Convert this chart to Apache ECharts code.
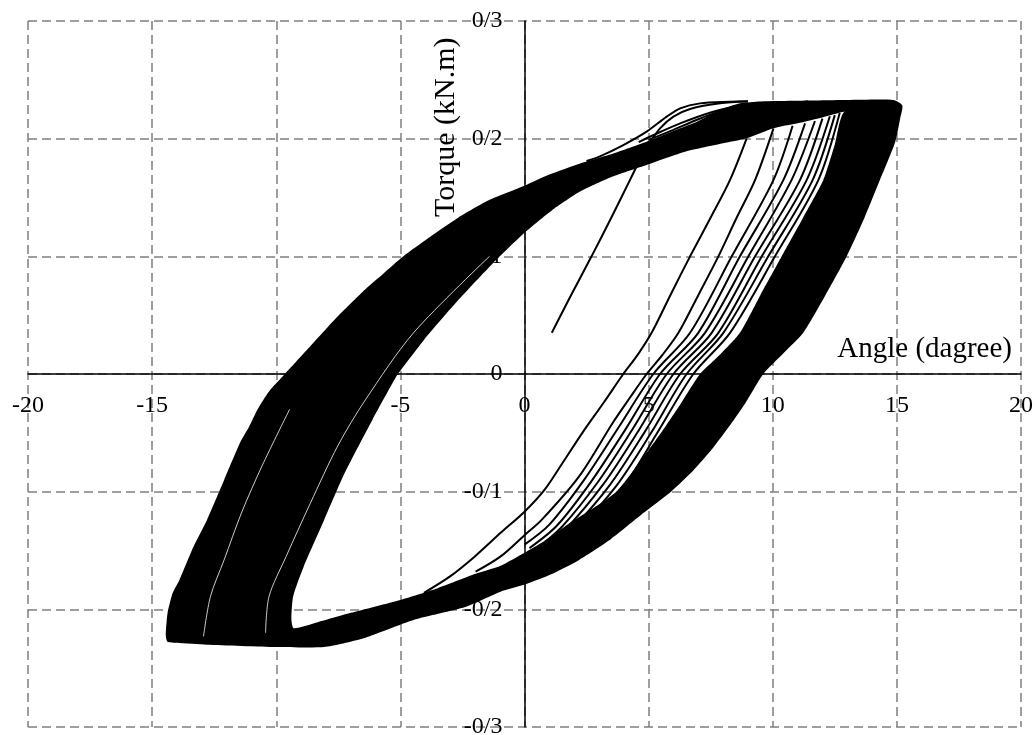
<!DOCTYPE html>
<html>
<head>
<meta charset="utf-8">
<title>Torque - Angle</title>
<script src="https://cdn.jsdelivr.net/npm/echarts@6/dist/echarts.min.js"></script>
<style>
  html, body { margin: 0; padding: 0; background: #ffffff; }
  #chart { width: 1035px; height: 735px; }
</style>
</head>
<body>
<div id="chart"></div>
<script>
// ---- axis ticks ----
const xTickLabels = ['-20', '-15', '-10', '-5', '0', '5', '10', '15', '20'];
const yTickLabels = ['-0/3', '-0/2', '-0/1', '0', '0/1', '0/2', '0/3'];

// ---- saturated hysteresis band: outer contour [angle, torque] ----
const ringOuter = [
  [15.2, 0.2286], [14.86, 0.2329], [13.0, 0.2328], [11.0, 0.2322], [9.5, 0.2316],
  [8.68, 0.2300], [7.88, 0.2244], [6.94, 0.2144], [6.27, 0.2088], [4.92, 0.1974],
  [3.58, 0.1875], [2.24, 0.1790], [1.0, 0.1695], [0.0, 0.1600], [-1.41, 0.1480],
  [-2.66, 0.1330], [-3.77, 0.1170], [-4.88, 0.1000], [-5.7, 0.0850], [-6.41, 0.0720],
  [-7.52, 0.0490], [-8.63, 0.0235], [-9.65, 0.0000], [-10.3, -0.0150], [-10.75, -0.0300],
  [-11.1, -0.0450], [-11.45, -0.0580], [-12.10, -0.0900], [-12.79, -0.1240], [-13.34, -0.1470],
  [-13.90, -0.1750], [-14.17, -0.1860], [-14.38, -0.2034], [-14.45, -0.2220], [-14.38, -0.2275],
  [-14.0, -0.2285], [-12.79, -0.2300], [-10.00, -0.2320], [-8.07, -0.2320], [-6.55, -0.2250],
  [-4.47, -0.2090], [-2.39, -0.1980], [-0.96, -0.1850], [0.00, -0.1790], [1.10, -0.1700],
  [2.20, -0.1580], [3.50, -0.1400], [4.80, -0.1180], [5.90, -0.1000], [6.80, -0.0820],
  [7.55, -0.0640], [8.30, -0.0430], [8.92, -0.0240], [9.62, 0.0000], [10.45, 0.0180],
  [11.23, 0.0350], [12.10, 0.0660], [12.98, 0.1000], [13.70, 0.1330], [14.32, 0.1650],
  [14.93, 0.1970], [15.13, 0.2170]
];

// ---- open interior of the band (runs the opposite way round) ----
const ringInner = [
  [12.90, 0.2230], [12.50, 0.1950], [12.04, 0.1650], [11.20, 0.1320], [10.36, 0.1000],
  [9.50, 0.0670], [8.68, 0.0350], [7.90, 0.0170], [7.07, 0.0000], [6.30, -0.0250],
  [5.50, -0.0500], [4.60, -0.0760], [3.70, -0.1000], [2.70, -0.1150], [1.80, -0.1270],
  [0.80, -0.1420], [0.00, -0.1520], [-0.96, -0.1630], [-2.00, -0.1700], [-3.50, -0.1820],
  [-5.00, -0.1920], [-7.00, -0.2030], [-8.50, -0.2120], [-9.30, -0.2160], [-9.39, -0.2080],
  [-9.32, -0.1890], [-8.90, -0.1640], [-8.07, -0.1240], [-7.24, -0.0840], [-6.13, -0.0390],
  [-5.23, -0.0045], [-5.10, 0.0000], [-4.05, 0.0290], [-2.66, 0.0630], [-1.28, 0.0940],
  [0.00, 0.1200], [1.10, 0.1390], [2.24, 0.1550], [3.58, 0.1680], [4.92, 0.1776],
  [6.50, 0.1890], [8.00, 0.1960], [8.95, 0.2003], [10.03, 0.2088], [11.00, 0.2130],
  [12.00, 0.2180]
];

// ---- first loading path ----
const initialLoading = [
  [1.1, 0.035], [1.9, 0.068], [2.7, 0.100], [3.5, 0.133], [4.25, 0.165], [4.7, 0.184],
  [5.06, 0.197], [5.46, 0.2088], [6.0, 0.2187], [6.67, 0.2252], [7.88, 0.2300], [9.0, 0.2315]
];

// ---- early reloading paths near the positive peak ----
const capA = [
  [2.5, 0.181], [3.04, 0.185], [3.98, 0.1946], [4.92, 0.206], [5.73, 0.2187],
  [6.27, 0.2258], [7.07, 0.2300], [8.28, 0.2314], [9.0, 0.2318]
];
const capC = [[4.6, 0.197], [5.2, 0.2031], [6.27, 0.213], [7.6, 0.2229], [8.68, 0.228]];
const capD = [[5.0, 0.199], [6.0, 0.2075], [7.0, 0.2165], [8.0, 0.2245]];

// ---- early unloading paths (positive peak down to the lower branch) ----
const unload1 = [
  [8.95, 0.2003], [8.28, 0.165], [7.5, 0.133], [6.67, 0.100], [5.9, 0.068], [5.12, 0.035],
  [4.55, 0.016], [3.98, 0.000], [3.2, -0.024], [2.33, -0.050], [1.55, -0.075], [0.82, -0.098],
  [0.0, -0.117], [-0.96, -0.135], [-2.0, -0.155], [-3.0, -0.172], [-4.05, -0.186]
];
const unload2 = [
  [10.03, 0.2088], [9.29, 0.165], [8.55, 0.133], [7.81, 0.100], [7.0, 0.067], [6.2, 0.035],
  [5.55, 0.016], [4.92, 0.000], [4.25, -0.020], [3.57, -0.041], [2.2, -0.087], [0.69, -0.124],
  [0.0, -0.137], [-0.96, -0.155], [-1.97, -0.168]
];
const unload3 = [[10.8, 0.211], [10.03, 0.165], [8.35, 0.100], [6.67, 0.035], [5.19, 0.000], [3.8, -0.045], [2.4, -0.090], [1.0, -0.128], [0.0, -0.145]];
const unload4 = [[11.3, 0.213], [10.43, 0.165], [8.68, 0.100], [7.0, 0.035], [5.46, 0.000], [4.1, -0.046], [2.7, -0.091], [1.3, -0.129], [0.2, -0.148]];
const unload5 = [[11.7, 0.215], [10.76, 0.165], [9.02, 0.100], [7.27, 0.035], [5.73, 0.000], [4.35, -0.047], [2.95, -0.092], [1.5, -0.130], [0.4, -0.150]];
const unload6 = [[12.0, 0.217], [11.1, 0.165], [9.29, 0.100], [7.54, 0.035], [6.0, 0.000], [4.6, -0.048], [3.2, -0.093], [1.7, -0.131], [0.6, -0.151]];
const unload7 = [[12.3, 0.219], [11.37, 0.165], [9.56, 0.100], [7.81, 0.035], [6.27, 0.000], [4.85, -0.049], [3.45, -0.094], [1.9, -0.132], [0.8, -0.152]];
const unload8 = [[12.5, 0.220], [11.61, 0.165], [9.82, 0.100], [8.01, 0.035], [6.53, 0.000], [5.1, -0.050], [3.7, -0.095], [2.1, -0.133], [1.0, -0.153]];
const unload9 = [[12.7, 0.222], [11.84, 0.165], [10.09, 0.100], [8.28, 0.035], [6.8, 0.000], [5.35, -0.050], [3.95, -0.097], [2.3, -0.134], [1.2, -0.154]];

// ---- thin gaps between neighbouring cycles inside the negative band ----
const gapA = [[-12.93, -0.223], [-12.65, -0.189], [-12.1, -0.158], [-11.4, -0.118], [-10.57, -0.078], [-9.46, -0.030]];
const gapB = [[-10.43, -0.220], [-10.29, -0.189], [-9.6, -0.155], [-8.63, -0.110], [-7.52, -0.061], [-6.41, -0.022], [-4.47, 0.035], [-1.41, 0.100]];

const FONT = 'Liberation Serif';
const X_MIN = -20, X_MAX = 20, X_STEP = 5;
const Y_MIN = -0.3, Y_MAX = 0.3, Y_STEP = 0.1;

// plot box inside the 1035 x 735 canvas
const GRID = { left: 28, right: 14, top: 21, bottom: 8 };
const PLOT_W = 1035 - GRID.left - GRID.right;
const PLOT_H = 735 - GRID.top - GRID.bottom;
// both axes cross at the origin: shift them in from the plot edges
const Y_AXIS_SHIFT = -PLOT_W * (0 - X_MIN) / (X_MAX - X_MIN);
const X_AXIS_SHIFT = -PLOT_H * (0 - Y_MIN) / (Y_MAX - Y_MIN);

function curve(data, color, width) {
  return {
    type: 'line',
    data: data,
    showSymbol: false,
    symbol: 'none',
    smooth: 0.3,
    silent: true,
    lineStyle: { color: color, width: width },
    z: 4
  };
}

const chart = echarts.init(document.getElementById('chart'), null, { renderer: 'canvas' });

const gridLine = { color: '#7f7f7f', width: 1.5, type: [9, 5] };

chart.setOption({
  animation: false,
  backgroundColor: '#ffffff',
  grid: { left: GRID.left, right: GRID.right, top: GRID.top, bottom: GRID.bottom, containLabel: false, outerBoundsMode: 'none' },
  xAxis: {
    type: 'value', min: X_MIN, max: X_MAX, interval: X_STEP,
    position: 'bottom', offset: X_AXIS_SHIFT,
    axisLine: { show: true, onZero: false, lineStyle: { color: '#000', width: 1.5 } },
    axisTick: { show: false },
    axisLabel: {
      show: true, margin: 20, color: '#000', fontFamily: FONT, fontSize: 24,
      showMinLabel: true, showMaxLabel: true, hideOverlap: false,
      formatter: v => xTickLabels[Math.round((v - X_MIN) / X_STEP)]
    },
    splitLine: { show: true, showMinLine: true, showMaxLine: true, lineStyle: gridLine },
    name: 'Angle (dagree)', nameLocation: 'end', nameGap: -9,
    nameTextStyle: { color: '#000', fontFamily: FONT, fontSize: 29, align: 'right', verticalAlign: 'bottom', padding: [0, 0, 10, 0] }
  },
  yAxis: {
    type: 'value', min: Y_MIN, max: Y_MAX, interval: Y_STEP,
    position: 'left', offset: Y_AXIS_SHIFT,
    axisLine: { show: true, onZero: false, lineStyle: { color: '#000', width: 1.5 } },
    axisTick: { show: false },
    axisLabel: {
      show: true, margin: 22, color: '#000', fontFamily: FONT, fontSize: 24,
      showMinLabel: true, showMaxLabel: true, hideOverlap: false,
      formatter: v => yTickLabels[Math.round((v - Y_MIN) / Y_STEP)]
    },
    splitLine: { show: true, showMinLine: true, showMaxLine: true, lineStyle: gridLine },
    name: 'Torque (kN.m)', nameLocation: 'end', nameRotate: 90, nameGap: -196,
    nameTextStyle: { color: '#000', fontFamily: FONT, fontSize: 30, align: 'left', verticalAlign: 'bottom', padding: [0, 0, 63, 0] }
  },
  series: [
    {
      type: 'custom',
      coordinateSystem: 'cartesian2d',
      data: [[0, 0]],
      silent: true,
      z: 3,
      renderItem: function (params, api) {
        const outer = ringOuter.map(p => api.coord(p));
        const inner = ringInner.map(p => api.coord(p));
        // outer contour, short bridge inside the band, interior contour (opposite winding leaves it open)
        const pts = outer.concat([outer[0]], inner, [inner[0]]);
        return { type: 'polygon', shape: { points: pts, smooth: 0.2 }, style: { fill: '#000', stroke: null } };
      }
    },
    curve(gapA, '#ffffff', 0.8),
    curve(gapB, '#ffffff', 0.8),
    curve(initialLoading, '#000', 2),
    curve(capA, '#000', 2),
    curve(capC, '#000', 2),
    curve(capD, '#000', 2),
    curve(unload1, '#000', 2),
    curve(unload2, '#000', 2),
    curve(unload3, '#000', 2),
    curve(unload4, '#000', 2),
    curve(unload5, '#000', 2),
    curve(unload6, '#000', 2),
    curve(unload7, '#000', 2),
    curve(unload8, '#000', 2),
    curve(unload9, '#000', 2)
  ]
});
</script>
</body>
</html>
